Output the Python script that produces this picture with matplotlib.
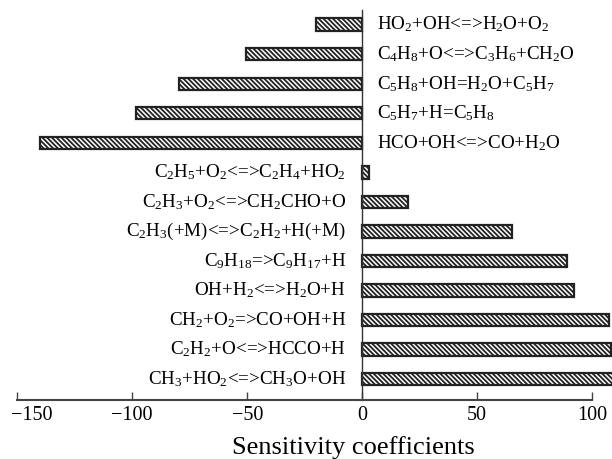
import matplotlib
matplotlib.use("Agg")
import matplotlib.pyplot as plt
import matplotlib.transforms as mtransforms

plt.rcParams['font.family'] = ['Liberation Serif', 'DejaVu Serif']
plt.rcParams['mathtext.fontset'] = 'custom'
plt.rcParams['mathtext.rm'] = 'Liberation Serif'
plt.rcParams['mathtext.it'] = 'Liberation Serif:italic'
plt.rcParams['hatch.linewidth'] = 1.3

# top to bottom as in the picture
reactions = [
    r'HO$_2$+OH<=>H$_2$O+O$_2$',
    r'C$_4$H$_8$+O<=>C$_3$H$_6$+CH$_2$O',
    r'C$_5$H$_8$+OH=H$_2$O+C$_5$H$_7$',
    r'C$_5$H$_7$+H=C$_5$H$_8$',
    r'HCO+OH<=>CO+H$_2$O',
    r'C$_2$H$_5$+O$_2$<=>C$_2$H$_4$+HO$_2$',
    r'C$_2$H$_3$+O$_2$<=>CH$_2$CHO+O',
    r'C$_2$H$_3$(+M)<=>C$_2$H$_2$+H(+M)',
    r'C$_9$H$_{18}$=>C$_9$H$_{17}$+H',
    r'OH+H$_2$<=>H$_2$O+H',
    r'CH$_2$+O$_2$=>CO+OH+H',
    r'C$_2$H$_2$+O<=>HCCO+H',
    r'CH$_3$+HO$_2$<=>CH$_3$O+OH',
]
values = [-20, -50.5, -79.5, -98.5, -140, 3, 20, 65, 89, 92, 107.5, 108.2, 112]
xticks = [-150, -100, -50, 0, 50, 100]

fig = plt.figure(figsize=(6.12, 4.59), dpi=100)
ax = fig.add_axes([0.0, 0.1285, 1.0, 0.85])

n = len(reactions)
ypos = [n - 1 - i for i in range(n)]
ax.barh(ypos, values, height=0.42, color='white', edgecolor='#222222',
        linewidth=1.6, hatch='\\\\\\\\\\\\\\', zorder=2)

for y, lab, v in zip(ypos, reactions, values):
    if v < 0:
        off = mtransforms.offset_copy(ax.transData, fig=fig, x=15, y=0, units='dots')
        ax.text(0, y, lab, transform=off, ha='left', va='center', fontsize=13.7)
    else:
        off = mtransforms.offset_copy(ax.transData, fig=fig, x=-16, y=0, units='dots')
        ax.text(0, y, lab, transform=off, ha='right', va='center', fontsize=13.7)

ax.set_xlim(-157.5, 108.6)
ax.set_ylim(-0.71, n - 0.5)
ax.set_xticks(xticks)
ax.set_xticklabels([str(t).replace('-', '\u2212') for t in xticks], fontsize=14.5)
ax.set_yticks([])
ax.tick_params(axis='x', direction='in', length=6, width=1, color='#444444', pad=4)
# first tick label sits a bit to the right in the original
first = ax.get_xticklabels()[0]
first.set_transform(first.get_transform() +
                    mtransforms.ScaledTranslation(15 / 100, 0, fig.dpi_scale_trans))
for s in ['top', 'right']:
    ax.spines[s].set_visible(False)
ax.spines['left'].set_position(('data', 0))
ax.spines['left'].set_linewidth(1.0)
ax.spines['left'].set_color('#333333')
ax.spines['bottom'].set_bounds(-150, 100)
ax.spines['bottom'].set_linewidth(1.5)
ax.spines['bottom'].set_color('#444444')
ax.set_xlabel('Sensitivity coefficients', fontsize=19)
ax.xaxis.set_label_coords(0.578, -0.092)
ax.patch.set_alpha(0)

fig.savefig('out.png', dpi=100)
